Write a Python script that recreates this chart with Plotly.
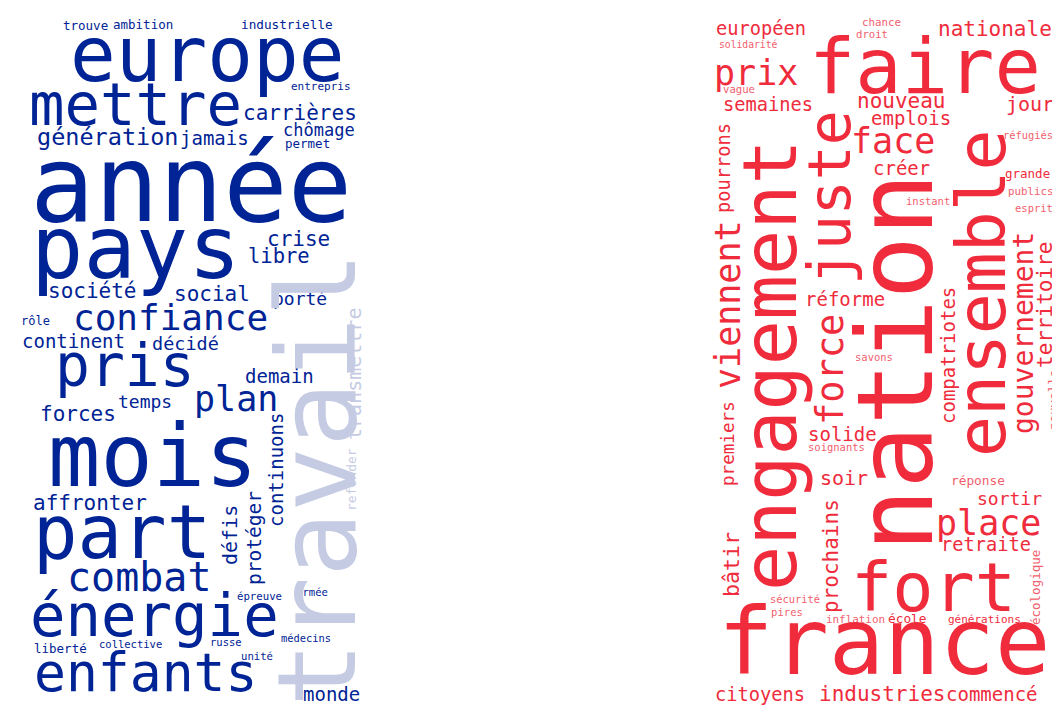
import plotly.graph_objects as go

# Nuage de gauche (bleu) : mots
mots_gauche = ["trouve", "ambition", "industrielle", "europe", "mettre", "carrières",
               "génération", "jamais", "chômage", "permet", "entrepris", "année", "pays",
               "crise", "libre", "société", "social", "porté", "confiance", "rôle",
               "continent", "décidé", "pris", "demain", "plan", "temps", "forces", "mois",
               "affronter", "part", "combat", "énergie", "épreuve", "armée", "liberté",
               "collective", "russe", "médecins", "unité", "enfants", "monde",
               "continuons", "défis", "protéger", "travail", "transmettre", "refonder"]

# Nuage de droite (rouge) : mots
mots_droite = ["européen", "chance", "droit", "solidarité", "nationale", "faire", "prix",
               "vague", "semaines", "nouveau", "emplois", "jour", "face", "réfugiés",
               "créer", "grande", "publics", "instant", "esprit", "réforme", "savons",
               "solide", "soignants", "soir", "réponse", "sortir", "place", "retraite",
               "fort", "sécurité", "pires", "inflation", "école", "générations", "france",
               "citoyens", "industries", "commencé",
               "pourrons", "engagement", "juste", "force", "nation", "ensemble",
               "gouvernement", "territoire", "nouvelle", "compatriotes", "viennent",
               "premiers", "prochains", "bâtir", "écologique"]

# placement (x, y, taille, vertical, pâle) ; y = ligne de base pour les mots horizontaux
place_gauche = [
    (77, 22, 12.5, 0, 0), (135, 21, 12.5, 0, 0), (279, 21, 12.7, 0, 0), (199, 73, 76, 0, 0),
    (127, 117, 59, 0, 0), (292, 112, 21, 0, 0), (99, 137, 23.5, 0, 0), (206, 137, 19, 0, 0),
    (311, 128, 17, 0, 0), (299, 140, 12.5, 0, 0), (313, 82, 11, 0, 0), (183, 213, 107, 0, 0),
    (128, 270, 87, 0, 0), (290, 238, 21, 0, 0), (271, 255, 20.5, 0, 0), (84, 290, 21, 0, 0),
    (204, 293, 21, 0, 0), (292, 297, 18, 0, 0), (162, 322, 36, 0, 0), (27, 317, 12, 0, 0),
    (65, 340, 19, 0, 0), (177, 342, 18.5, 0, 0), (117, 378, 58, 0, 0), (271, 375, 19, 0, 0),
    (228, 403, 35, 0, 0), (137, 400, 18, 0, 0), (70, 413, 21, 0, 0), (145, 478, 87, 0, 0),
    (82, 502, 21, 0, 0), (114, 550, 74, 0, 0), (131, 583, 40, 0, 0), (146, 628, 59, 0, 0),
    (251, 592, 10.7, 0, 0), (304, 588, 10.6, 0, 0), (52, 645, 12.5, 0, 0), (122, 640, 10.5, 0, 0),
    (218, 638, 10.5, 0, 0), (298, 634, 10.4, 0, 0), (249, 652, 10.6, 0, 0), (137, 683, 53, 0, 0),
    (323, 693, 19, 0, 0),
    (268, 462, 19, 1, 0), (222, 527, 20, 1, 0), (246, 530, 19.5, 1, 0),
    (309, 472, 108, 1, 1), (346, 366, 20, 1, 1), (343, 472, 13, 1, 1),
]

place_droite = [
    (753, 27, 18.7, 0, 0), (873, 18, 10.8, 0, 1), (864, 30, 10.6, 0, 1), (740, 40, 9.7, 0, 1),
    (987, 28, 21, 0, 0), (917, 85, 77, 0, 0), (748, 77, 35, 0, 0), (731, 85, 10.6, 0, 1),
    (760, 103, 18.7, 0, 0), (893, 100, 21, 0, 0), (903, 117, 19, 0, 0), (1022, 103, 20, 0, 0),
    (885, 145, 35, 0, 0), (1020, 131, 10.4, 0, 1), (893, 167, 19, 0, 0), (1019, 170, 12.5, 0, 0),
    (1023, 187, 10.8, 0, 1), (920, 197, 10.5, 0, 1), (1026, 204, 10.5, 0, 1), (837, 298, 19, 0, 0),
    (866, 353, 10.5, 0, 1), (834, 433, 19, 0, 0), (828, 443, 10.5, 0, 1), (836, 477, 20, 0, 0),
    (970, 477, 12.8, 0, 1), (1001, 497, 18, 0, 0), (980, 527, 35, 0, 0), (978, 543, 18.7, 0, 0),
    (925, 603, 68.5, 0, 0), (787, 595, 10.4, 0, 1), (779, 608, 10.6, 0, 1), (847, 615, 10.9, 0, 1),
    (899, 615, 12.8, 0, 0), (976, 615, 11, 0, 0), (876, 667, 92, 0, 0),
    (752, 693, 18.7, 0, 0), (874, 693, 21, 0, 0), (984, 693, 19, 0, 0),
    (715, 160, 18.7, 1, 0), (762, 357, 75, 1, 0), (822, 190, 58, 1, 0), (822, 362, 37, 1, 0),
    (888, 355, 105, 1, 0), (973, 285, 68, 1, 0), (1015, 325, 28, 1, 0), (1037, 297, 21, 1, 0),
    (1045, 392, 12.5, 1, 1), (940, 348, 19, 1, 0), (720, 297, 35, 1, 0), (720, 436, 17.6, 1, 0),
    (823, 548, 21, 1, 0), (723, 557, 21.6, 1, 0), (1027, 580, 12.5, 1, 1),
]

couleurs = {"bleu": ("#002395", "#c5cbe3"), "rouge": ("#ef2b3c", "#f2606d")}

fig = go.Figure()
annotations = []
for mots, places, nom in [(mots_gauche, place_gauche, "bleu"), (mots_droite, place_droite, "rouge")]:
    fonce, pale = couleurs[nom]
    for mot, (x, y, taille, vert, clair) in zip(mots, places):
        if not vert:
            y = y - 0.35 * taille
        annotations.append(dict(
            x=x, y=y, xref="x", yref="y", text=mot, showarrow=False,
            textangle=-90 if vert else 0, xanchor="center", yanchor="middle",
            font=dict(family="DejaVu Sans Mono", size=taille, color=pale if clair else fonce),
        ))

fig.update_layout(
    width=1060, height=713,
    margin=dict(l=0, r=0, t=0, b=0),
    paper_bgcolor="white", plot_bgcolor="white",
    xaxis=dict(range=[0, 1060], visible=False, fixedrange=True),
    yaxis=dict(range=[713, 0], visible=False, fixedrange=True),
    annotations=annotations,
    showlegend=False,
)

fig.write_html("out.html")
